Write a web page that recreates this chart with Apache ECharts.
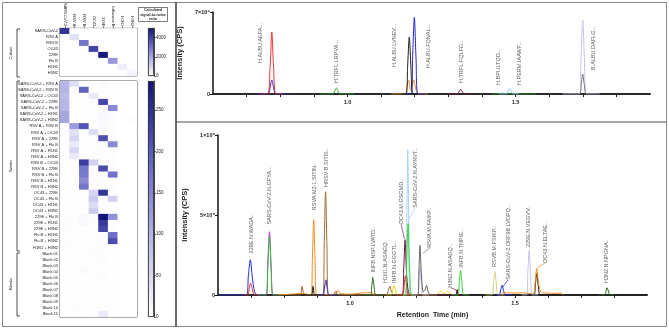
<!DOCTYPE html>
<html>
<head>
<meta charset="utf-8">
<script src="https://cdn.jsdelivr.net/npm/echarts@6/dist/echarts.min.js"></script>
<style>
html, body { margin: 0; padding: 0; background: #fff; }
#main { width: 669px; height: 329px; }
</style>
</head>
<body>
<div id="main"></div>
<script>
// heatmap data
var targets = ['SARS-CoV-2', 'RSV A', 'RSV B', 'OC43', '229E', 'Influenza B', 'H1N1', 'H3N2'];
var cultureRows = ['SARS-CoV-2', 'RSV A', 'RSV B', 'OC43', '229E', 'Flu B', 'H1N1', 'H3N2'];
var cultureRatio = [4300, 700, 3000, 4000, 4900, 2300, 400, 250];
var cultureMax = 5000;
var cultureTicks = [0, 2000, 4000];

var swabRows = ['SARS-CoV-2 + RSV A', 'SARS-CoV-2 + RSV B', 'SARS-CoV-2 + OC43', 'SARS-CoV-2 + 229E',
    'SARS-CoV-2 + Flu B', 'SARS-CoV-2 + H1N1', 'SARS-CoV-2 + H3N2', 'RSV A + RSV B', 'RSV A + OC43',
    'RSV A + 229E', 'RSV A + Flu B', 'RSV A + H1N1', 'RSV A + H3N2', 'RSV B + OC43', 'RSV B + 229E',
    'RSV B + Flu B', 'RSV B + H1N1', 'RSV B + H3N2', 'OC43 + 229E', 'OC43 + Flu B', 'OC43 + H1N1',
    'OC43 + H3N2', '229E + Flu B', '229E + H1N1', '229E + H3N2', 'Flu B + H1N1', 'Flu B + H3N2',
    'H1N1 + H3N2', 'Blank 01', 'Blank 02', 'Blank 03', 'Blank 04', 'Blank 05', 'Blank 06', 'Blank 07',
    'Blank 08', 'Blank 09', 'Blank 10', 'Blank 11'];
var swabRatio = [
    [95, 45, 3, 2, 5, 2, 0, 0],
    [100, 4, 190, 2, 3, 2, 0, 0],
    [90, 3, 2, 30, 3, 2, 0, 0],
    [95, 3, 2, 5, 225, 3, 0, 0],
    [95, 3, 3, 2, 3, 150, 0, 0],
    [115, 3, 2, 3, 10, 4, 2, 0],
    [115, 3, 2, 3, 8, 3, 0, 5],
    [3, 130, 210, 3, 5, 3, 0, 0],
    [3, 40, 3, 45, 3, 3, 0, 0],
    [3, 55, 3, 3, 215, 3, 0, 0],
    [2, 25, 3, 3, 3, 150, 0, 0],
    [2, 55, 3, 3, 4, 3, 0, 0],
    [2, 30, 3, 3, 3, 3, 0, 0],
    [2, 3, 235, 60, 4, 3, 0, 0],
    [3, 3, 170, 4, 220, 3, 0, 0],
    [3, 3, 165, 3, 4, 175, 0, 0],
    [2, 3, 145, 3, 4, 3, 0, 0],
    [2, 3, 170, 3, 3, 3, 0, 0],
    [2, 3, 3, 55, 245, 3, 0, 0],
    [2, 3, 3, 70, 4, 60, 0, 0],
    [2, 3, 3, 45, 4, 3, 0, 0],
    [2, 3, 3, 70, 4, 3, 0, 0],
    [4, 3, 8, 3, 285, 140, 0, 0],
    [6, 3, 10, 3, 240, 3, 0, 0],
    [3, 3, 3, 3, 225, 3, 0, 0],
    [3, 3, 3, 3, 4, 180, 0, 0],
    [4, 3, 3, 3, 4, 220, 0, 0],
    [3, 3, 3, 3, 4, 3, 2, 2],
    [3, 2, 2, 4, 3, 2, 0, 0],
    [2, 3, 2, 3, 4, 2, 0, 0],
    [2, 2, 3, 2, 3, 2, 0, 0],
    [3, 2, 6, 3, 3, 2, 0, 0],
    [2, 2, 2, 3, 4, 2, 0, 0],
    [2, 3, 2, 2, 3, 2, 0, 0],
    [2, 2, 2, 3, 2, 2, 0, 0],
    [3, 2, 2, 2, 3, 2, 0, 0],
    [2, 2, 3, 2, 3, 2, 0, 0],
    [3, 4, 2, 2, 3, 2, 0, 0],
    [2, 2, 2, 3, 30, 2, 0, 0]
];
var swabMax = 285;
var swabTicks = [0, 50, 100, 150, 200, 250];

// retention time axis
var rtTicks = [0.7, 0.8, 0.9, 1.0, 1.1, 1.2, 1.3, 1.4, 1.5, 1.6, 1.7, 1.8];
var rtLabels = [1.0, 1.5];

// top chromatogram, intensity in 1e4 CPS
var topRed = [[0.74, 0], [0.762, 0], [0.77, 2.4], [0.775, 5.3], [0.78, 2.4], [0.788, 0], [0.81, 0]];
var topBlue1 = [[0.73, 0], [0.764, 0], [0.77, 0.6], [0.775, 1.2], [0.78, 0.6], [0.787, 0], [0.83, 0]];
var topGreen1 = [[0.92, 0], [0.956, 0], [0.962, 0.25], [0.967, 0.5], [0.972, 0.25], [0.978, 0], [1.02, 0]];
var topOrange = [[1.13, 0], [1.171, 0], [1.177, 0.6], [1.182, 1.2], [1.188, 0.3], [1.192, 0.6], [1.197, 1.2], [1.203, 0.5], [1.21, 0], [1.24, 0]];
var topBlack = [[1.16, 0], [1.174, 0], [1.179, 2.4], [1.184, 4.85], [1.189, 2.2], [1.195, 0], [1.21, 0]];
var topBlue2 = [[1.17, 0], [1.189, 0], [1.194, 3.3], [1.199, 6.55], [1.204, 3.0], [1.21, 0], [1.23, 0]];
var topMaroon = [[1.3, 0], [1.326, 0], [1.332, 0.2], [1.337, 0.4], [1.342, 0.2], [1.348, 0], [1.37, 0]];
var topGreen2 = [[1.43, 0], [1.456, 0], [1.461, 0.1], [1.466, 0], [1.56, 0]];
var topCyan = [[1.45, 0], [1.472, 0], [1.477, 0.25], [1.482, 0.5], [1.487, 0.25], [1.493, 0], [1.51, 0]];
var topLavender = [[1.64, 0], [1.69, 0], [1.695, 3.2], [1.70, 6.3], [1.705, 3.0], [1.711, 0], [1.75, 0]];
var topGrey = [[1.68, 0], [1.691, 0], [1.696, 0.9], [1.70, 1.7], [1.704, 0.9], [1.71, 0], [1.72, 0]];
var topPeptides = [
    [0.741, 2.65, 'H.ALBU.AEFA...'],
    [0.967, 0.94, 'H.TRFL.LRPVA...'],
    [1.139, 2.3, 'H.ALBU.LVNEV...'],
    [1.241, 2.2, 'H.ALBU.FQNAL...'],
    [1.34, 0.94, 'H.TRFL.FQLFG...'],
    [1.449, 0.77, 'H.BPI.ILTQD...'],
    [1.512, 0.77, 'H.PERM.IAAWF...'],
    [1.732, 2.05, 'B.ALBU.DAFLG...']
];

// bottom chromatogram, intensity in 1e5 CPS
var botBlue1 = [[0.6, 0], [0.686, 0], [0.692, 1.2], [0.698, 2.2], [0.704, 1.1], [0.711, 0.2], [0.72, 0], [0.74, 0]];
var botRed1 = [[0.68, 0], [0.69, 0], [0.695, 0.45], [0.699, 0.75], [0.704, 0.35], [0.711, 0], [0.73, 0]];
var botMagenta = [[0.735, 0], [0.746, 0], [0.751, 2.0], [0.756, 3.95], [0.761, 1.8], [0.767, 0], [0.78, 0]];
var botGreen1 = [[0.72, 0], [0.746, 0], [0.751, 1.8], [0.756, 3.65], [0.761, 1.6], [0.767, 0], [0.8, 0]];
var botOrange1 = [[0.78, 0], [0.82, 0.05], [0.85, 0.1], [0.87, 0.05], [0.882, 0], [0.886, 2.3], [0.89, 4.7], [0.894, 2.3], [0.899, 0], [0.955, 0.05], [0.963, 0.3], [0.97, 0.1], [1.0, 0.05], [1.05, 0.15], [1.065, 0.15], [1.075, 0]];
var botBrown = [[0.82, 0], [0.849, 0], [0.854, 0.55], [0.86, 0.1], [0.866, 0], [0.918, 0], [0.922, 3.2], [0.926, 6.45], [0.93, 3.2], [0.935, 0], [0.95, 0], [0.957, 0.25], [0.964, 0], [1.11, 0], [1.116, 0.3], [1.121, 0.55], [1.126, 0.2], [1.135, 0], [1.15, 0]];
var botBlack1 = [[0.86, 0], [0.883, 0], [0.888, 0.55], [0.894, 0], [0.92, 0]];
var botBlue2 = [[0.9, 0], [0.918, 0], [0.923, 0.5], [0.927, 0.95], [0.931, 0.4], [0.937, 0], [0.96, 0]];
var botDkGreen1 = [[1.04, 0], [1.062, 0], [1.066, 0.6], [1.069, 1.1], [1.073, 0.5], [1.079, 0], [1.1, 0]];
var botYellow = [[1.11, 0], [1.126, 0], [1.13, 0.35], [1.134, 0.6], [1.138, 0.35], [1.143, 0], [1.16, 0], [1.26, 0], [1.275, 0.25], [1.285, 0.1], [1.295, 0.2], [1.31, 0]];
var botMaroon = [[1.14, 0], [1.158, 0], [1.163, 1.8], [1.167, 3.45], [1.171, 1.5], [1.177, 0.2], [1.185, 0], [1.3, 0], [1.32, 0], [1.325, 0.35], [1.33, 0], [1.35, 0]];
var botRed2 = [[1.15, 0], [1.16, 0], [1.164, 0.6], [1.168, 1.2], [1.172, 0.5], [1.178, 0], [1.19, 0]];
var botSky = [[1.16, 0], [1.169, 0], [1.172, 4.5], [1.175, 9.1], [1.178, 4.5], [1.183, 0], [1.2, 0]];
var botGreen2 = [[1.16, 0], [1.168, 0], [1.172, 2.2], [1.176, 4.45], [1.18, 2.0], [1.187, 0], [1.2, 0]];
var botGreen3 = [[1.31, 0], [1.327, 0], [1.331, 0.8], [1.335, 1.55], [1.339, 0.8], [1.345, 0], [1.36, 0]];
var botGrey = [[1.19, 0], [1.205, 0], [1.209, 1.6], [1.212, 3.1], [1.216, 1.4], [1.222, 0.2], [1.227, 0.3], [1.232, 0.6], [1.237, 0.2], [1.245, 0], [1.26, 0]];
var botLavender1 = [[1.19, 0], [1.205, 0], [1.209, 0.9], [1.212, 1.7], [1.216, 0.8], [1.222, 0], [1.24, 0]];
var botBlack2 = [[1.3, 0], [1.32, 0], [1.325, 0.3], [1.33, 0], [1.55, 0], [1.558, 0], [1.562, 0.7], [1.566, 1.35], [1.571, 0.5], [1.578, 0], [1.9, 0]];
var botKhaki = [[1.41, 0], [1.43, 0], [1.435, 0.8], [1.439, 1.45], [1.443, 0.8], [1.449, 0], [1.47, 0]];
var botBlue3 = [[1.44, 0], [1.452, 0], [1.457, 0.35], [1.461, 0.6], [1.465, 0.3], [1.471, 0], [1.49, 0]];
var botLavender2 = [[1.52, 0], [1.535, 0], [1.539, 1.4], [1.543, 2.8], [1.547, 1.4], [1.553, 0], [1.57, 0]];
var botOrange2 = [[1.46, 0.1], [1.48, 0.15], [1.5, 0.12], [1.52, 0.15], [1.54, 0.1], [1.556, 0.1], [1.561, 0.8], [1.566, 1.65], [1.571, 0.8], [1.58, 0.15], [1.6, 0.12], [1.62, 0.1], [1.64, 0.12], [1.645, 0]];
var botDkGreen2 = [[1.75, 0], [1.772, 0], [1.776, 0.25], [1.779, 0.45], [1.783, 0.25], [1.788, 0], [1.8, 0]];
var botPeptides = [
    [0.70, 2.6, '229E.N.WADA..'],
    [0.755, 4.4, 'SARS-CoV-2.N.GFYA...'],
    [0.891, 5.3, 'RSVA.M2-1.SITIN..'],
    [0.93, 6.75, 'HRSV-B.SITIS..'],
    [1.07, 1.4, 'INFB.NSP.LVATD..'],
    [1.109, 0.75, 'H1N1.N.ASAGQ..'],
    [1.136, 0.75, 'INFB.N.GGGTL..'],
    [1.155, 4.4, 'OC43.M.GSGMD..'],
    [1.197, 5.45, 'SARS-CoV-2.N.AYNVT..'],
    [1.242, 2.95, 'RSVA.M.FAIKP..'],
    [1.306, 0.45, 'H3N2.N.ASAGQ..'],
    [1.339, 1.7, 'INFB.N.TNPIE..'],
    [1.439, 1.75, 'RSVB.M.FSIKP..'],
    [1.479, 0.95, 'SARS-CoV-2 ORF9B.LVDPQ..'],
    [1.542, 3.0, '229E.N.VEGVV..'],
    [1.591, 2.0, 'OC43.N.ELTAE..'],
    [1.776, 0.75, 'H3N2.N.NPGNA..']
];
// leader lines from label to peak
var botLeaders = [
    [[1.155, 4.4], [1.165, 3.5]],
    [[1.197, 5.45], [1.177, 4.7]],
    [[1.242, 2.95], [1.221, 2.6]],
    [[1.306, 0.45], [1.322, 0.3]],
    [[1.479, 0.95], [1.463, 0.5]],
    [[1.591, 2.0], [1.568, 1.7]]
];

var FONT = 'Liberation Sans, Arial, sans-serif';
var heatColors = ['#ffffff', '#b8b8e8', '#6565c4', '#12127a'];
var myChart = echarts.init(document.getElementById('main'));

function cells(matrix) {
    var out = [];
    matrix.forEach(function (row, i) {
        row.forEach(function (v, j) { out.push([j, i, v]); });
    });
    return out;
}
var cultureMatrix = cultureRows.map(function (r, i) {
    return targets.map(function (t, j) { return i === j ? cultureRatio[i] : 0; });
});

function gradient() {
    return new echarts.graphic.LinearGradient(0, 0, 0, 1, [
        { offset: 0, color: heatColors[3] },
        { offset: 0.34, color: heatColors[2] },
        { offset: 0.67, color: heatColors[1] },
        { offset: 1, color: heatColors[0] }
    ]);
}

function trace(data, color, idx, z) {
    return {
        type: 'line', xAxisIndex: idx, yAxisIndex: idx, data: data,
        showSymbol: false, smooth: 0.3, silent: true, z: z || 3,
        lineStyle: { color: color, width: 1 }
    };
}
function peptideLabels(list, idx) {
    return {
        type: 'scatter', xAxisIndex: idx, yAxisIndex: idx, symbolSize: 1, silent: true, z: 6,
        itemStyle: { color: 'rgba(0,0,0,0)' },
        data: list,
        label: {
            show: true, position: 'inside', rotate: 90, align: 'left', verticalAlign: 'middle',
            fontSize: 5.5, fontFamily: FONT, color: '#333',
            formatter: function (p) { return p.value[2]; }
        }
    };
}

var heatCat = function (grid, data, top) {
    return {
        type: 'category', gridIndex: grid, data: data, position: top ? 'top' : 'bottom',
        axisLine: { show: top, lineStyle: { color: '#222', width: 0.8 } },
        axisTick: { show: top, interval: 0, length: 2, alignWithLabel: true, lineStyle: { color: '#222', width: 0.6 } },
        axisLabel: { show: top, interval: 0, rotate: 90, fontSize: 4, margin: 2, color: '#222', fontFamily: FONT },
        splitLine: { show: false }
    };
};
var heatRows = function (grid, data) {
    return {
        type: 'category', gridIndex: grid, data: data, inverse: true,
        axisLine: { lineStyle: { color: '#222', width: 0.8 } },
        axisTick: { interval: 0, length: 2, alignWithLabel: true, lineStyle: { color: '#222', width: 0.6 } },
        axisLabel: { interval: 0, fontSize: 4, margin: 2, color: '#222', fontFamily: FONT },
        splitLine: { show: false }
    };
};
var barAxis = function (grid, max, ticks) {
    return {
        type: 'value', gridIndex: grid, min: 0, max: max, position: 'right',
        axisLine: { show: true, lineStyle: { color: '#222', width: 0.8 } },
        axisTick: { show: true, customValues: ticks, length: 2, lineStyle: { color: '#222', width: 0.6 } },
        axisLabel: {
            customValues: ticks, fontSize: 4.5, margin: 2, color: '#222', fontFamily: FONT,
            formatter: function (v) { return String(v); }
        },
        splitLine: { show: false }
    };
};
var rtAxis = function (grid, name) {
    return {
        type: 'value', gridIndex: grid, min: 0.6, max: 1.9,
        name: name, nameLocation: 'middle', nameGap: 17,
        nameTextStyle: { fontSize: 7, fontWeight: 'bold', color: '#222', fontFamily: FONT },
        axisLine: { onZero: false, lineStyle: { color: '#2a2a2a', width: 2 } },
        axisTick: { customValues: rtTicks, length: 3, lineStyle: { color: '#222', width: 1 } },
        axisLabel: {
            customValues: rtLabels, fontSize: 5.5, fontWeight: 'bold', margin: 5, color: '#222', fontFamily: FONT,
            formatter: function (v) { return v.toFixed(1); }
        },
        splitLine: { show: false }
    };
};
var intensityAxis = function (grid, max, ticks, texts, gap) {
    return {
        type: 'value', gridIndex: grid, min: 0, max: max,
        name: 'Intensity (CPS)', nameLocation: 'middle', nameGap: gap, nameRotate: 90,
        nameTextStyle: { fontSize: 7.5, fontWeight: 'bold', color: '#222', fontFamily: FONT },
        axisLine: { show: true, lineStyle: { color: '#111', width: 1.5 } },
        axisTick: { show: true, customValues: ticks, length: 3, lineStyle: { color: '#111', width: 1 } },
        axisLabel: {
            customValues: ticks, fontSize: 5.5, fontWeight: 'bold', margin: 3, color: '#222', fontFamily: FONT,
            formatter: function (v) { return texts[ticks.indexOf(v)]; }
        },
        splitLine: { show: false }
    };
};

var series = [
    { type: 'heatmap', xAxisIndex: 0, yAxisIndex: 0, data: cells(cultureMatrix), silent: true },
    { type: 'heatmap', xAxisIndex: 1, yAxisIndex: 1, data: cells(swabRatio), silent: true },
    { type: 'bar', xAxisIndex: 2, yAxisIndex: 2, data: [cultureMax], barWidth: '100%', silent: true,
      itemStyle: { color: gradient(), borderColor: '#111', borderWidth: 0.8 } },
    { type: 'bar', xAxisIndex: 3, yAxisIndex: 3, data: [swabMax], barWidth: '100%', silent: true,
      itemStyle: { color: gradient(), borderColor: '#111', borderWidth: 0.8 } }
];

// top chromatogram
[
    [topBlue1, '#2b2bd8'], [topRed, '#e8302e'], [topGreen1, '#2aa82a'], [topOrange, '#f08c1a'],
    [topBlack, '#1a1a1a'], [topBlue2, '#2424c8'], [topMaroon, '#7a1838'], [topGreen2, '#2e9a2e'],
    [topCyan, '#8ecdf0'], [topLavender, '#c4c4ee'], [topGrey, '#777777']
].forEach(function (t) { series.push(trace(t[0], t[1], 4)); });
series.push(peptideLabels(topPeptides, 4));

// bottom chromatogram
[
    [botBlack2, '#1a1a1a'], [botBlue1, '#2525e0'], [botRed1, '#e8302e'], [botMagenta, '#b02fe0'],
    [botGreen1, '#35c035'], [botOrange1, '#f08c1a'], [botBrown, '#a06a2c'], [botBlack1, '#1a1a1a'],
    [botBlue2, '#2525c8'], [botDkGreen1, '#2a6a1a'], [botYellow, '#f0d018'], [botSky, '#a8d2f4'],
    [botMaroon, '#6a1440'], [botRed2, '#d82a2a'], [botGreen2, '#38d038'], [botGreen3, '#38d038'],
    [botLavender1, '#c4c4ee'], [botGrey, '#606060'], [botKhaki, '#d0d080'], [botBlue3, '#2525e0'],
    [botLavender2, '#c4c4ee'], [botOrange2, '#f08c1a'], [botDkGreen2, '#2a6a1a']
].forEach(function (t) { series.push(trace(t[0], t[1], 5)); });
var leaderColors = ['#7a2a7a', '#a8d2f4', '#777777', '#7a1838', '#2525e0', '#f08c1a'];
botLeaders.forEach(function (seg, i) {
    series.push({
        type: 'line', xAxisIndex: 5, yAxisIndex: 5, data: seg, showSymbol: false, silent: true, z: 5,
        lineStyle: { color: leaderColors[i], width: 0.7 }
    });
});
series.push(peptideLabels(botPeptides, 5));

function bracket(y1, y2) {
    return {
        type: 'polyline', silent: true,
        shape: { points: [[20, y1], [17, y1], [17, y2], [20, y2]] },
        style: { stroke: '#222', lineWidth: 0.8, fill: null }
    };
}
function sideText(text, y) {
    return {
        type: 'text', x: 11, y: y, rotation: Math.PI / 2, silent: true,
        style: { text: text, fontSize: 4, fontFamily: FONT, fill: '#222', align: 'center', verticalAlign: 'middle' }
    };
}

var option = {
    animation: false,
    textStyle: { fontFamily: FONT },
    grid: [
        { left: 60, top: 28, width: 77, height: 48, show: true, borderColor: '#222', borderWidth: 0.8 },
        { left: 60, top: 81, width: 77, height: 236, show: true, borderColor: '#222', borderWidth: 1 },
        { left: 148, top: 28, width: 6, height: 48 },
        { left: 148, top: 81, width: 6, height: 236 },
        { left: 213, top: 12, width: 437, height: 82 },
        { left: 218, top: 135, width: 429, height: 160 }
    ],
    xAxis: [
        heatCat(0, targets, true),
        heatCat(1, targets, false),
        { type: 'category', gridIndex: 2, data: ['c'], show: false },
        { type: 'category', gridIndex: 3, data: ['s'], show: false },
        rtAxis(4, ''),
        rtAxis(5, 'Retention  Time (min)')
    ],
    yAxis: [
        heatRows(0, cultureRows),
        heatRows(1, swabRows),
        barAxis(2, cultureMax, cultureTicks),
        barAxis(3, swabMax, swabTicks),
        intensityAxis(4, 7, [0, 7], ['0', '7×10⁴'], 20),
        intensityAxis(5, 10, [0, 5, 10], ['0', '5×10⁵', '1×10⁶'], 24)
    ],
    visualMap: [
        { type: 'continuous', show: false, seriesIndex: 0, min: 0, max: cultureMax, inRange: { color: heatColors } },
        { type: 'continuous', show: false, seriesIndex: 1, min: 0, max: swabMax, inRange: { color: heatColors } }
    ],
    graphic: [
        { type: 'rect', silent: true, shape: { x: 2.5, y: 2.5, width: 173.5, height: 324 }, style: { stroke: '#888', lineWidth: 1, fill: null } },
        { type: 'rect', silent: true, shape: { x: 176, y: 2.5, width: 490.5, height: 119.5 }, style: { stroke: '#888', lineWidth: 1, fill: null } },
        { type: 'rect', silent: true, shape: { x: 176, y: 122, width: 490.5, height: 204.5 }, style: { stroke: '#888', lineWidth: 1, fill: null } },
        { type: 'line', silent: true, shape: { x1: 176, y1: 2, x2: 176, y2: 327 }, style: { stroke: '#444', lineWidth: 1.2 } },
        { type: 'rect', silent: true, shape: { x: 138.5, y: 7.5, width: 29, height: 14 }, style: { stroke: '#222', lineWidth: 0.6, fill: null } },
        {
            type: 'text', x: 153, y: 14.5, silent: true,
            style: { text: 'Calculated\nsignal-to-noise\nratio', fontSize: 3.6, lineHeight: 4.2, fontWeight: 'bold', fontFamily: FONT, fill: '#222', align: 'center', verticalAlign: 'middle' }
        },
        bracket(29, 77), bracket(81, 251), bracket(253, 316),
        sideText('Culture', 53), sideText('Swabs', 166), sideText('Blanks', 284)
    ],
    series: series
};

myChart.setOption(option);
</script>
</body>
</html>
